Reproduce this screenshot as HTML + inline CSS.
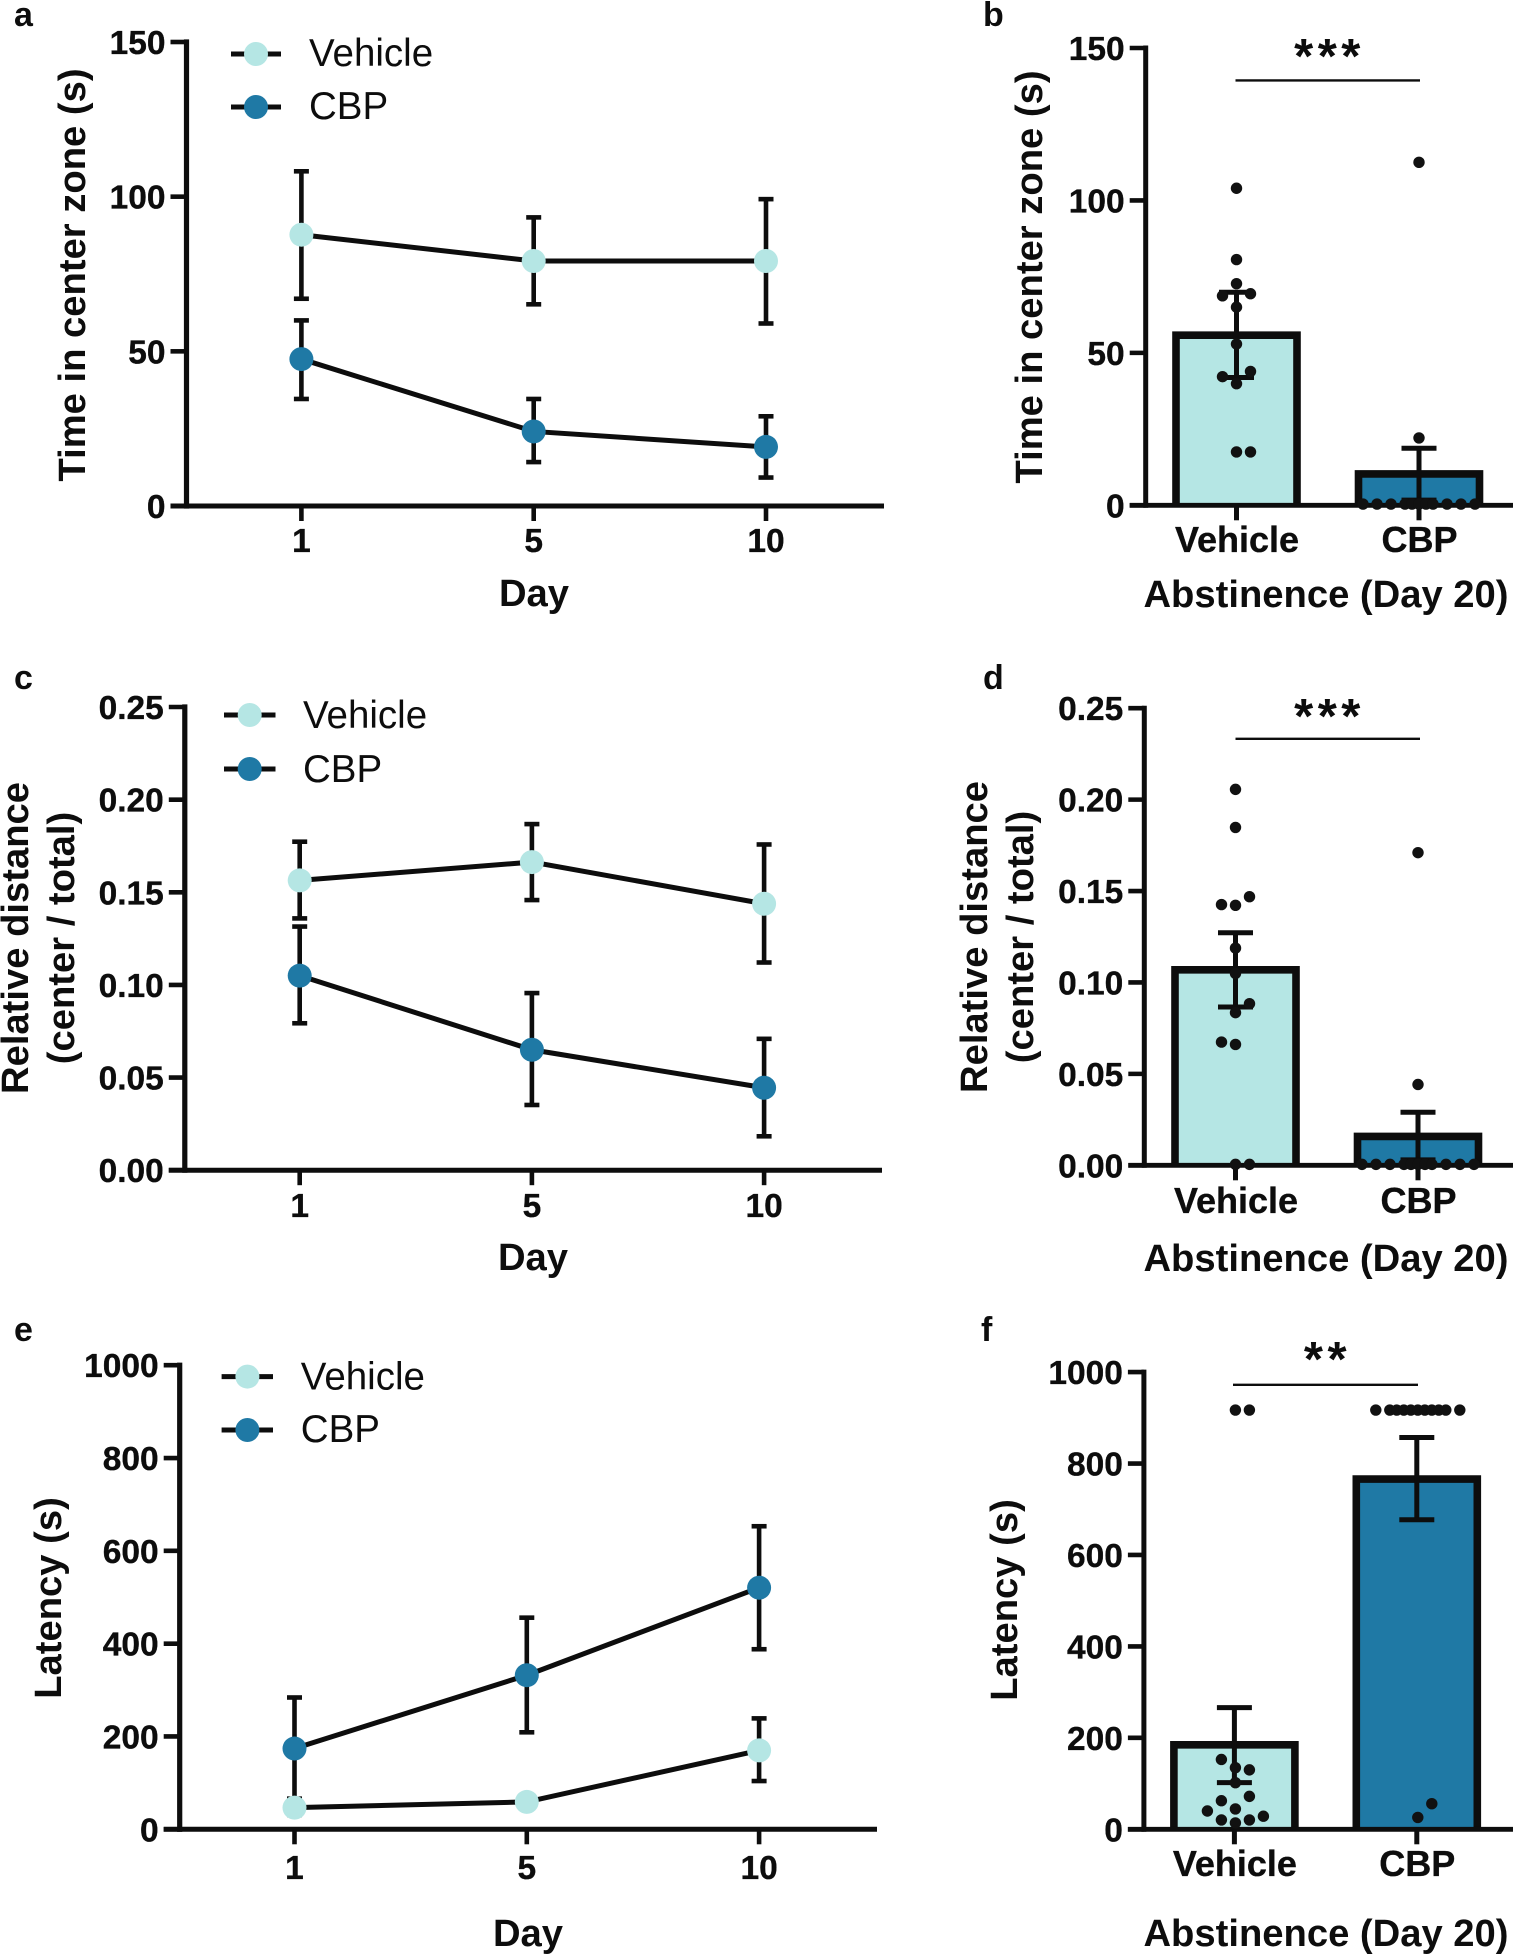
<!DOCTYPE html>
<html lang="en">
<head>
<meta charset="utf-8">
<title>Time in center zone, relative distance and latency: Vehicle vs CBP</title>
<style>
html,body{margin:0;padding:0;background:#fff}
svg{display:block}
text{font-family:"Liberation Sans",Arial,sans-serif;fill:#0d0d0d}
.b{font-weight:700}
.title{font-weight:700;font-size:38.2px}
.letter{font-weight:700;font-size:34px}
.legend{font-size:38.5px}
.stars{font-weight:700;font-size:49px;letter-spacing:4.5px;text-anchor:middle}
.tick{font-weight:700;font-size:33.5px;stroke:#0d0d0d;stroke-width:.35px}
.cat{font-weight:700;font-size:36px;stroke:#0d0d0d;stroke-width:.35px}
</style>
</head>
<body>
<svg id="figure" xmlns="http://www.w3.org/2000/svg" width="1513" height="1955" viewBox="0 0 1513 1955">
  <rect width="1513" height="1955" fill="#fff"/>

  <g id="panel-a">
    <text class="letter" x="14" y="26">a</text>
    <text class="title" text-anchor="middle" transform="translate(85,275) rotate(-90)">Time in center zone (s)</text>
    <text class="title" text-anchor="middle" x="534" y="606">Day</text>
    <g>
      <line x1="231" x2="281" y1="54" y2="54" stroke="#0d0d0d" stroke-width="5"/>
      <circle cx="256" cy="54" r="12" fill="#b5e6e4"/>
      <text class="legend" x="309" y="66">Vehicle</text>
      <line x1="231" x2="281" y1="107" y2="107" stroke="#0d0d0d" stroke-width="5"/>
      <circle cx="256" cy="107" r="12" fill="#1f79a5"/>
      <text class="legend" x="309" y="119">CBP</text>
    </g>
  </g>

  <g id="panel-b">
    <text class="letter" x="983" y="26">b</text>
    <text class="title" text-anchor="middle" transform="translate(1042,277) rotate(-90)">Time in center zone (s)</text>
    <text class="title" text-anchor="middle" x="1326" y="607">Abstinence (Day 20)</text>
    <line x1="1235.5" x2="1420" y1="80.4" y2="80.4" stroke="#0d0d0d" stroke-width="2.4"/>
    <text class="stars" x="1329.5" y="73">***</text>
  </g>

  <g id="panel-c">
    <text class="letter" x="14" y="689">c</text>
    <text class="title" text-anchor="middle" transform="translate(28,938) rotate(-90)">Relative distance</text>
    <text class="title" text-anchor="middle" transform="translate(74,938) rotate(-90)">(center / total)</text>
    <text class="title" text-anchor="middle" x="533" y="1270">Day</text>
    <g>
      <line x1="224" x2="275.5" y1="715" y2="715" stroke="#0d0d0d" stroke-width="5"/>
      <circle cx="249.7" cy="715" r="12" fill="#b5e6e4"/>
      <text class="legend" x="303" y="728">Vehicle</text>
      <line x1="224" x2="275.5" y1="769" y2="769" stroke="#0d0d0d" stroke-width="5"/>
      <circle cx="249.7" cy="769" r="12" fill="#1f79a5"/>
      <text class="legend" x="303" y="782">CBP</text>
    </g>
  </g>

  <g id="panel-d">
    <text class="letter" x="983" y="689">d</text>
    <text class="title" text-anchor="middle" transform="translate(987,937) rotate(-90)">Relative distance</text>
    <text class="title" text-anchor="middle" transform="translate(1033,937) rotate(-90)">(center / total)</text>
    <text class="title" text-anchor="middle" x="1326" y="1271">Abstinence (Day 20)</text>
    <line x1="1235.5" x2="1420" y1="738.8" y2="738.8" stroke="#0d0d0d" stroke-width="2.4"/>
    <text class="stars" x="1329.5" y="733">***</text>
  </g>

  <g id="panel-e">
    <text class="letter" x="14" y="1341">e</text>
    <text class="title" text-anchor="middle" transform="translate(61,1598) rotate(-90)">Latency (s)</text>
    <text class="title" text-anchor="middle" x="528" y="1946">Day</text>
    <g>
      <line x1="221.6" x2="273" y1="1376.6" y2="1376.6" stroke="#0d0d0d" stroke-width="5"/>
      <circle cx="247.4" cy="1376.6" r="12" fill="#b5e6e4"/>
      <text class="legend" x="300.8" y="1389.5">Vehicle</text>
      <line x1="221.6" x2="273" y1="1430" y2="1430" stroke="#0d0d0d" stroke-width="5"/>
      <circle cx="247.4" cy="1430" r="12" fill="#1f79a5"/>
      <text class="legend" x="300.8" y="1442">CBP</text>
    </g>
  </g>

  <g id="panel-f">
    <text class="letter" x="981" y="1341">f</text>
    <text class="title" text-anchor="middle" transform="translate(1017,1600) rotate(-90)">Latency (s)</text>
    <text class="title" text-anchor="middle" x="1326" y="1946">Abstinence (Day 20)</text>
    <line x1="1233" x2="1418" y1="1384.8" y2="1384.8" stroke="#0d0d0d" stroke-width="2.4"/>
    <text class="stars" x="1327.5" y="1376">**</text>
  </g>
</svg>

<script>
// ---- Shared categories ----
const days = ['1', '5', '10'];
const groups = ['Vehicle', 'CBP'];

// ---- Panel a: time in center zone by day ----
const aTickLabels = ['0', '50', '100', '150'];
const aVehicleMean = [87.7, 79.2, 79.2];
const aVehicleHigh = [108.2, 93.3, 99.2];
const aVehicleLow = [67, 65.2, 59];
const aCbpMean = [47.5, 24.1, 19.1];
const aCbpHigh = [60, 34.6, 29];
const aCbpLow = [34.6, 14.2, 9.2];

// ---- Panel c: relative distance by day ----
const cTickLabels = ['0.00', '0.05', '0.10', '0.15', '0.20', '0.25'];
const cVehicleMean = [0.1564, 0.1663, 0.1438];
const cVehicleHigh = [0.1773, 0.1868, 0.1758];
const cVehicleLow = [0.1359, 0.1458, 0.1121];
const cCbpMean = [0.105, 0.065, 0.0445];
const cCbpHigh = [0.1315, 0.0956, 0.0709];
const cCbpLow = [0.0793, 0.0352, 0.0183];

// ---- Panel e: latency by day ----
const eTickLabels = ['0', '200', '400', '600', '800', '1000'];
const eVehicleMean = [46.6, 59, 170];
const eVehicleHigh = [62, 71, 239];
const eVehicleLow = [31, 47, 104];
const eCbpMean = [174, 332, 520.6];
const eCbpHigh = [284, 456, 653];
const eCbpLow = [66, 209, 388];

// ---- Panel b: abstinence time in center zone ----
const bTickLabels = ['0', '50', '100', '150'];
const bBarMeans = [55.8, 10.3];
const bBarHigh = [69.9, 18.7];
const bBarLow = [41.9, 1.7];
const bVehicleDots = [104, 80.6, 72.7, 68.7, 69.4, 65, 52.9, 43.9, 42.2, 39.9, 17.5, 17.5];
const bVehicleSlots = [0, 0, 0, -1, 1, 0, 0, 1, -1, 0, 0, 1];
const bCbpDots = [112.5, 22.1, 0.4, 0.4, 0.4, 0.4, 0.4, 0.4, 0.4, 0.4, 0.4, 0.4, 0.4];
const bCbpSlots = [0, 0, -4, -3, -2, -1, -0.5, 0, 0.5, 1, 2, 3, 4];

// ---- Panel d: abstinence relative distance ----
const dTickLabels = ['0.00', '0.05', '0.10', '0.15', '0.20', '0.25'];
const dBarMeans = [0.1069, 0.0158];
const dBarHigh = [0.1272, 0.029];
const dBarLow = [0.0866, 0.003];
const dVehicleDots = [0.2056, 0.1848, 0.1426, 0.1422, 0.1469, 0.1188, 0.1049, 0.0884, 0.0835, 0.0674, 0.0661, 0.0005, 0.0005];
const dVehicleSlots = [0, 0, -1, 0, 1, 0, 0, 1, 0, -1, 0, 0, 1];
const dCbpDots = [0.171, 0.0442, 0.0005, 0.0005, 0.0005, 0.0005, 0.0005, 0.0005, 0.0005, 0.0005, 0.0005, 0.0005, 0.0005];
const dCbpSlots = [0, 0, -4, -3, -2, -1, -0.5, 0, 0.5, 1, 2, 3, 4];

// ---- Panel f: abstinence latency ----
const fTickLabels = ['0', '200', '400', '600', '800', '1000'];
const fBarMeans = [184.8, 766];
const fBarHigh = [266, 857];
const fBarLow = [102, 677];
const fVehicleDots = [917, 917, 152.7, 134.8, 130, 102, 62.5, 72, 44.6, 40, 28.6, 20.5, 20.5, 14];
const fVehicleSlots = [0, 1, -1, 0, 1, 0, -1, 1, 0, -2, 2, -1, 1, 0];
const fCbpDots = [917, 917, 917, 917, 917, 917, 917, 917, 917, 917, 917, 26, 56];
const fCbpSlots = [-3, -2, -1.5, -1, -0.5, 0, 0.5, 1, 1.5, 2, 3, 0, 1];

const INK = '#0d0d0d';
const LIGHT = '#b5e6e4';
const DARK = '#1f79a5';
const NS = 'http://www.w3.org/2000/svg';

function mk(parent, tag, attrs, name) {
  const el = document.createElementNS(NS, tag);
  for (const k in attrs) el.setAttribute(k, attrs[k]);
  
  
  parent.appendChild(el);
  return el;
}

function drawYAxis(g, id, labels, yScale, axisX, axisW) {
  const nums = labels.map(parseFloat);
  mk(g, 'line', {x1: axisX, x2: axisX, y1: yScale(Math.max(...nums)) - axisW / 2, y2: yScale(0) + axisW / 2, stroke: INK, 'stroke-width': axisW}, 'y-axis-line-' + id);
  labels.forEach(function (lab) {
    const v = parseFloat(lab);
    mk(g, 'line', {x1: axisX - 16, x2: axisX, y1: yScale(v), y2: yScale(v), stroke: INK, 'stroke-width': 4.6}, 'y-tick-' + id + '-' + lab);
    const t = mk(g, 'text', {class: 'tick', x: axisX - 21, y: yScale(v) + 12, 'text-anchor': 'end'}, 'y-tick-label-' + id + '-' + lab);
    t.textContent = lab;
  });
}

function drawLinePanel(id, cfg, labels, series) {
  const g = document.getElementById('panel-' + id);
  const maxV = Math.max(...labels.map(parseFloat));
  const y = v => cfg.y0 - (v / maxV) * (cfg.y0 - cfg.yTop);
  const x = i => cfg.xFirst + i * cfg.xStep;
  drawYAxis(g, id, labels, y, cfg.axisX, 5.2);
  mk(g, 'line', {x1: cfg.axisX - 16, x2: cfg.xEnd, y1: cfg.y0, y2: cfg.y0, stroke: INK, 'stroke-width': 5}, 'x-axis-line-' + id);
  days.forEach(function (d, i) {
    mk(g, 'line', {x1: x(i), x2: x(i), y1: cfg.y0, y2: cfg.y0 + 15, stroke: INK, 'stroke-width': 4.6}, 'x-tick-' + id + '-day-' + d);
    const t = mk(g, 'text', {class: 'tick', x: x(i), y: cfg.labelY, 'text-anchor': 'middle'}, 'x-tick-label-' + id + '-day-' + d);
    t.textContent = d;
  });
  series.forEach(function (s) {
    const sg = mk(g, 'g', {}, 'series-' + s.name + '-' + id);
    days.forEach(function (d, i) {
      mk(sg, 'line', {x1: x(i), x2: x(i), y1: y(s.high[i]), y2: y(s.low[i]), stroke: INK, 'stroke-width': 4.6}, 'error-bar-' + s.name + '-day-' + d);
      [s.high[i], s.low[i]].forEach(function (v) {
        mk(sg, 'line', {x1: x(i) - 7.5, x2: x(i) + 7.5, y1: y(v), y2: y(v), stroke: INK, 'stroke-width': 4.6}, 'error-cap-' + s.name + '-day-' + d);
      });
    });
    mk(sg, 'polyline', {points: s.mean.map((v, i) => x(i) + ',' + y(v)).join(' '), fill: 'none', stroke: INK, 'stroke-width': 5}, 'line-' + s.name + '-' + id);
    s.mean.forEach(function (v, i) {
      mk(sg, 'circle', {cx: x(i), cy: y(v), r: 12, fill: s.color}, 'point-' + s.name + '-day-' + days[i]);
    });
  });
}

function drawBarPanel(id, cfg, labels, means, highs, lows, dotSets) {
  const g = document.getElementById('panel-' + id);
  const maxV = Math.max(...labels.map(parseFloat));
  const y = v => cfg.y0 - (v / maxV) * (cfg.y0 - cfg.yTop);
  const x = i => cfg.xFirst + i * cfg.xStep;
  const fills = [LIGHT, DARK];
  groups.forEach(function (grp, i) {
    const left = x(i) - 60.5;
    const right = x(i) + 60.5;
    const d = 'M' + left + ' ' + cfg.y0 + ' V' + y(means[i]) + ' H' + right + ' V' + cfg.y0;
    mk(g, 'path', {d: d, fill: fills[i], stroke: INK, 'stroke-width': 7.6}, 'bar-' + grp.toLowerCase() + '-' + id);
  });
  drawYAxis(g, id, labels, y, cfg.axisX, 5);
  mk(g, 'line', {x1: cfg.axisX - 16, x2: 1513, y1: cfg.y0, y2: cfg.y0, stroke: INK, 'stroke-width': 4.8}, 'x-axis-line-' + id);
  groups.forEach(function (grp, i) {
    const n = grp.toLowerCase();
    mk(g, 'line', {x1: x(i), x2: x(i), y1: cfg.y0, y2: cfg.y0 + 15, stroke: INK, 'stroke-width': 5}, 'x-tick-' + id + '-' + n);
    const t = mk(g, 'text', {class: 'cat', x: x(i) + 0.5, y: cfg.labelY, 'text-anchor': 'middle'}, 'x-tick-label-' + id + '-' + n);
    t.textContent = grp;
    mk(g, 'line', {x1: x(i), x2: x(i), y1: y(highs[i]), y2: y(lows[i]), stroke: INK, 'stroke-width': 5}, 'error-bar-' + n + '-' + id);
    [highs[i], lows[i]].forEach(function (v) {
      mk(g, 'line', {x1: x(i) - 17.5, x2: x(i) + 17.5, y1: y(v), y2: y(v), stroke: INK, 'stroke-width': 5}, 'error-cap-' + n + '-' + id);
    });
    dotSets[i].values.forEach(function (v, k) {
      mk(g, 'circle', {cx: x(i) + cfg.dotOffset + dotSets[i].slots[k] * 14, cy: y(v), r: 5.7, fill: '#111'}, 'dot-' + n + '-' + id);
    });
  });
}

drawLinePanel('a', {y0: 506, yTop: 42, axisX: 186.5, xFirst: 301.4, xStep: 232.3, xEnd: 884, labelY: 552}, aTickLabels, [
  {name: 'cbp', color: DARK, mean: aCbpMean, high: aCbpHigh, low: aCbpLow},
  {name: 'vehicle', color: LIGHT, mean: aVehicleMean, high: aVehicleHigh, low: aVehicleLow}
]);
drawLinePanel('c', {y0: 1170.2, yTop: 707, axisX: 184.8, xFirst: 299.7, xStep: 232.2, xEnd: 882, labelY: 1217}, cTickLabels, [
  {name: 'cbp', color: DARK, mean: cCbpMean, high: cCbpHigh, low: cCbpLow},
  {name: 'vehicle', color: LIGHT, mean: cVehicleMean, high: cVehicleHigh, low: cVehicleLow}
]);
drawLinePanel('e', {y0: 1829.3, yTop: 1365.2, axisX: 179.7, xFirst: 294.5, xStep: 232.3, xEnd: 877, labelY: 1879}, eTickLabels, [
  {name: 'cbp', color: DARK, mean: eCbpMean, high: eCbpHigh, low: eCbpLow},
  {name: 'vehicle', color: LIGHT, mean: eVehicleMean, high: eVehicleHigh, low: eVehicleLow}
]);

drawBarPanel('b', {y0: 505.3, yTop: 48, axisX: 1145.7, xFirst: 1236.5, xStep: 182.5, dotOffset: 0, labelY: 552}, bTickLabels, bBarMeans, bBarHigh, bBarLow, [
  {values: bVehicleDots, slots: bVehicleSlots},
  {values: bCbpDots, slots: bCbpSlots}
]);
drawBarPanel('d', {y0: 1165.3, yTop: 708.2, axisX: 1144.3, xFirst: 1235.5, xStep: 182.5, dotOffset: 0, labelY: 1213}, dTickLabels, dBarMeans, dBarHigh, dBarLow, [
  {values: dVehicleDots, slots: dVehicleSlots},
  {values: dCbpDots, slots: dCbpSlots}
]);
drawBarPanel('f', {y0: 1829.3, yTop: 1372.1, axisX: 1143.9, xFirst: 1234.4, xStep: 182.4, dotOffset: 1, labelY: 1876}, fTickLabels, fBarMeans, fBarHigh, fBarLow, [
  {values: fVehicleDots, slots: fVehicleSlots},
  {values: fCbpDots, slots: fCbpSlots}
]);
</script>
</body>
</html>
